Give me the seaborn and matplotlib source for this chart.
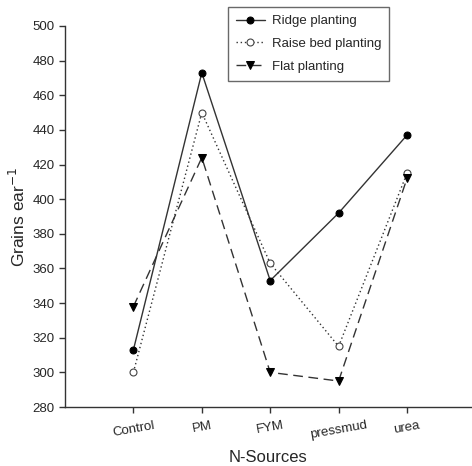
import pandas as pd
import seaborn as sns
import matplotlib.pyplot as plt

sources = ['Control', 'PM', 'FYM', 'pressmud', 'urea']
ridge = [313, 473, 353, 392, 437]
raise_bed = [300, 450, 363, 315, 415]
flat = [338, 424, 300, 295, 412]

sns.set_style('ticks')
plt.rcParams['font.family'] = ['Liberation Sans Narrow', 'Liberation Sans', 'DejaVu Sans']

fig = plt.figure(figsize=(4.72, 4.66), dpi=100)
ax = fig.add_axes([65 / 472, 1 - 407 / 466, 1 - 65 / 472, (407 - 26) / 466])

df = pd.DataFrame({'source': sources, 'ridge': ridge, 'raise': raise_bed, 'flat': flat})

sns.lineplot(data=df, x='source', y='ridge', ax=ax, color='#333333', lw=1,
             marker='o', markersize=5, markerfacecolor='black', markeredgecolor='black',
             label='Ridge planting', sort=False)
sns.lineplot(data=df, x='source', y='raise', ax=ax, color='#333333', lw=1, linestyle=(0, (1, 2)),
             marker='o', markersize=5, markerfacecolor='white', markeredgecolor='#444444',
             markeredgewidth=0.8, label='Raise bed planting', sort=False)
sns.lineplot(data=df, x='source', y='flat', ax=ax, color='#333333', lw=1, linestyle=(0, (7, 4)),
             marker='v', markersize=6, markerfacecolor='black', markeredgecolor='black',
             label='Flat planting', sort=False)

ax.set_xlim(-1, 4.95)
ax.set_ylim(280, 500)
ax.set_yticks(range(280, 501, 20))
ax.tick_params(axis='both', labelsize=9.5, length=4, width=1, color='#333333')
ax.tick_params(axis='x', pad=5)
for lab in ax.get_xticklabels():
    lab.set_rotation(10)
ax.spines['top'].set_visible(False)
ax.spines['right'].set_visible(False)
for s in ['left', 'bottom']:
    ax.spines[s].set_color('#333333')
    ax.spines[s].set_linewidth(1)

ax.set_xlabel('N-Sources', fontsize=12, labelpad=6)
ax.set_ylabel('Grains ear$^{-1}$', fontsize=12.5, labelpad=3)

leg = ax.legend(loc='upper left', bbox_to_anchor=(228 / 472, 1 - 7 / 466),
                bbox_transform=fig.transFigure, fontsize=9.5, frameon=True,
                fancybox=False, edgecolor='#444444', handlelength=2.2,
                borderaxespad=0, borderpad=0.6, labelspacing=0.8, handletextpad=0.5)
leg.get_frame().set_linewidth(1)

fig.savefig('out.png', dpi=100)
